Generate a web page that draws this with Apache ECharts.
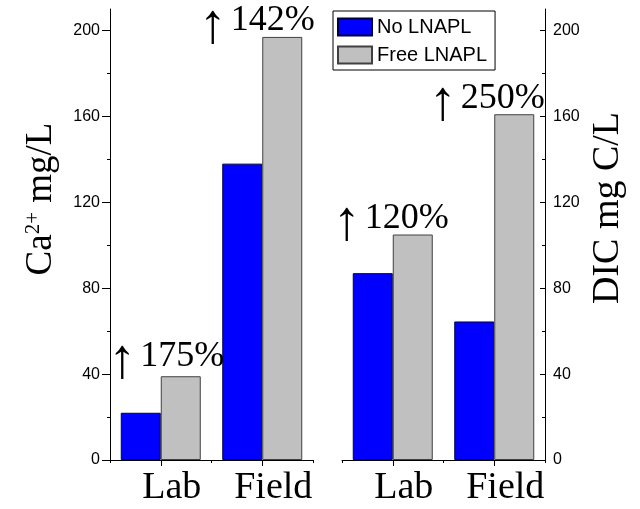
<!DOCTYPE html>
<html>
<head>
<meta charset="utf-8">
<script src="https://cdn.jsdelivr.net/npm/echarts@6/dist/echarts.min.js"></script>
<style>
  html, body { margin: 0; padding: 0; background: #fff; }
  #chart { width: 640px; height: 509px; }
</style>
</head>
<body>
<div id="chart"></div>
<script>
// Calcium and dissolved inorganic carbon, lab vs field, with and without LNAPL
const categories = ['Lab', 'Field'];
const seriesNames = ['No LNAPL', 'Free LNAPL'];

const caNoLnapl = [22, 138];      // Ca2+ mg/L
const caFreeLnapl = [39, 197];
const dicNoLnapl = [87, 64.5];    // DIC mg C/L
const dicFreeLnapl = [105, 161];

const caIncrease = ['175%', '142%'];
const dicIncrease = ['120%', '250%'];

const yMajorTicks = [0, 40, 80, 120, 160, 200];
const yMinorTicks = [20, 60, 100, 140, 180];
const yMax = 210;

// label nudges for the increase annotations, [dx, dy] per bar
const caNudge = [[-14.5, -2], [-25.5, 2]];
const dicNudge = [[-22, 2], [-27.5, 2]];

const SANS = '"Liberation Sans", Arial, sans-serif';
const SERIF = '"Liberation Serif", "Times New Roman", serif';
const BLUE = '#0000ff';
const GRAY = '#c0c0c0';

const chart = echarts.init(document.getElementById('chart'), null, { renderer: 'canvas' });

function boundaryXAxis(grid) {
  return {
    type: 'category', gridIndex: grid, data: categories, position: 'bottom',
    boundaryGap: true,
    axisLine: { show: true, lineStyle: { color: '#000', width: 1 } },
    axisTick: { show: true, length: 3, lineStyle: { color: '#000' } },
    axisLabel: {
      show: true, interval: 0, hideOverlap: false, color: '#000',
      fontFamily: SERIF, fontSize: 38, margin: 9, padding: [0, 0, 0, 22]
    },
    splitLine: { show: false }
  };
}
function centerXAxis(grid) {
  return {
    type: 'category', gridIndex: grid, data: categories, position: 'bottom',
    boundaryGap: true,
    axisLine: { show: false },
    axisTick: { show: true, alignWithLabel: true, length: 6, lineStyle: { color: '#000' } },
    axisLabel: { show: false },
    splitLine: { show: false }
  };
}
function majorYAxis(grid, side) {
  const right = side === 'right';
  return {
    type: 'value', gridIndex: grid, position: side, min: 0, max: yMax,
    axisLine: { show: true, onZero: false, lineStyle: { color: '#000', width: 1 } },
    axisTick: {
      show: true, inside: right, length: right ? 5 : 8,
      customValues: yMajorTicks, lineStyle: { color: '#000' }
    },
    axisLabel: {
      show: true, customValues: yMajorTicks, color: '#000',
      fontFamily: SANS, fontSize: 16, margin: right ? 8 : 10
    },
    splitLine: { show: false }
  };
}
function minorYAxis(grid, side) {
  const right = side === 'right';
  return {
    type: 'value', gridIndex: grid, position: side, min: 0, max: yMax,
    axisLine: { show: false },
    axisTick: {
      show: true, inside: right, length: 3,
      customValues: yMinorTicks, lineStyle: { color: '#000' }
    },
    axisLabel: { show: false },
    splitLine: { show: false }
  };
}

function barSeries(name, values, color, border, xIdx, yIdx, notes, nudge) {
  const s = {
    name: name, type: 'bar', xAxisIndex: xIdx, yAxisIndex: yIdx,
    barWidth: 40, barGap: '0%',
    itemStyle: { color: color, borderColor: border, borderWidth: 1 },
    data: values.map(v => ({ value: v }))
  };
  if (notes) {
    s.data = values.map((v, i) => ({ value: v, label: { offset: nudge[i] } }));
    s.label = {
      show: true, position: 'top', distance: 0,
      formatter: p => '{a|\u2191}{n|' + notes[p.dataIndex] + '}',
      rich: {
        a: { fontFamily: SERIF, fontSize: 56, color: '#000', lineHeight: 40, verticalAlign: 'bottom', padding: [0, 0, -16, 0] },
        n: { fontFamily: SERIF, fontSize: 36, color: '#000', lineHeight: 40, verticalAlign: 'bottom', padding: [0, 0, 0, 4] }
      }
    };
  }
  return s;
}

const option = {
  backgroundColor: '#fff',
  animation: false,
  grid: [
    { left: 110, right: 327, top: 9, bottom: 49, containLabel: false },
    { left: 342, right: 95, top: 9, bottom: 49, containLabel: false }
  ],
  xAxis: [boundaryXAxis(0), centerXAxis(0), boundaryXAxis(1), centerXAxis(1)],
  yAxis: [majorYAxis(0, 'left'), minorYAxis(0, 'left'), majorYAxis(1, 'right'), minorYAxis(1, 'right')],
  legend: {
    data: seriesNames, orient: 'vertical', left: 333, top: 11,
    itemWidth: 34, itemHeight: 17, itemGap: 8,
    padding: [6, 8, 5, 4],
    borderColor: '#000', borderWidth: 1, backgroundColor: '#fff',
    textStyle: { fontFamily: SANS, fontSize: 20, color: '#000', lineHeight: 17 },
    icon: 'rect', selectedMode: false
  },
  series: [
    barSeries(seriesNames[0], caNoLnapl, BLUE, '#000040', 0, 0),
    barSeries(seriesNames[1], caFreeLnapl, GRAY, '#404040', 0, 0, caIncrease, caNudge),
    barSeries(seriesNames[0], dicNoLnapl, BLUE, '#000040', 2, 2),
    barSeries(seriesNames[1], dicFreeLnapl, GRAY, '#404040', 2, 2, dicIncrease, dicNudge)
  ],
  graphic: [
    {
      type: 'text', x: 41, y: 199, rotation: Math.PI / 2,
      style: {
        text: '{m|Ca}{s|2+}{m| mg/L}',
        align: 'center', verticalAlign: 'middle',
        rich: {
          m: { fontFamily: SERIF, fontSize: 37, fill: '#000', color: '#000', lineHeight: 37, verticalAlign: 'bottom' },
          s: { fontFamily: SERIF, fontSize: 21, fill: '#000', color: '#000', verticalAlign: 'top' }
        }
      }
    },
    {
      type: 'text', x: 608, y: 208, rotation: Math.PI / 2,
      style: {
        text: 'DIC mg C/L', align: 'center', verticalAlign: 'middle',
        fontFamily: SERIF, fontSize: 38, fill: '#000'
      }
    }
  ]
};

chart.setOption(option);
</script>
</body>
</html>
